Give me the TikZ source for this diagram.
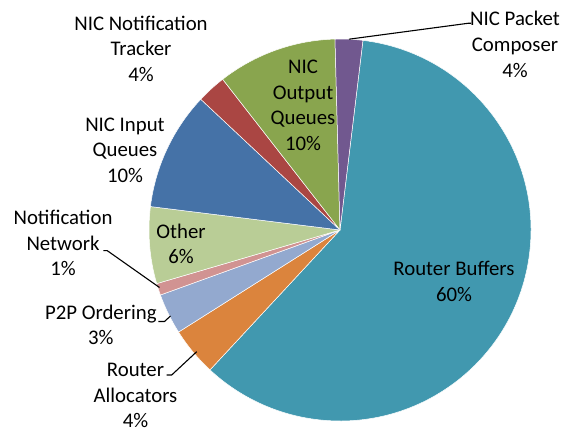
\documentclass[tikz,border=0pt]{standalone}
\usepackage{fontspec}
\setmainfont{Carlito}
\usetikzlibrary{calc}

% slice colours
\definecolor{cinput}{HTML}{4572A7}
\definecolor{ctracker}{HTML}{AA4643}
\definecolor{coutput}{HTML}{89A54E}
\definecolor{ccomposer}{HTML}{71588F}
\definecolor{cbuffers}{HTML}{4198AF}
\definecolor{callocators}{HTML}{DB843D}
\definecolor{cptp}{HTML}{93A9CF}
\definecolor{cnotif}{HTML}{D19392}
\definecolor{cother}{HTML}{B9CD96}

\begin{document}
\begin{tikzpicture}[x=1pt,y=1pt,
  % labels are placed by the baseline of their last line
  lbl/.style={anchor=base, align=center, inner sep=0pt,
              font=\fontsize{20.8}{25.8}\selectfont},
  leader/.style={draw=black, line width=1.1pt, line join=round},
  slice/.style={draw=white, line width=0.5pt, line join=round}]
\useasboundingbox (0,0) rectangle (566,433);

\coordinate (c) at (340,203);
\def\R{191}

% pie slices, clockwise (start angle / end angle / colour)
\foreach \a/\b/\col in {83.1/-132.9/cbuffers,
                        -132.9/-147.7/callocators,
                        -147.7/-160.1/cptp,
                        -160.1/-163.7/cnotif,
                        -163.7/-187.05/cother,
                        -187.05/-223.2/cinput,
                        -223.2/-232.1/ctracker,
                        -232.1/-268.5/coutput,
                        -268.5/-276.9/ccomposer} {
  \filldraw[slice, fill=\col] (c) -- ($(c)+(\a:\R)$)
    arc[start angle=\a, end angle=\b, radius=\R] -- cycle;
}

% labels inside the slices
\node[lbl] (buffers) at (454,131.3) {Router Buffers\\60\%};
\node[lbl] (output) at (303,282.3) {NIC\\Output\\Queues\\10\%};
\node[lbl] (other) at (181,169) {Other\\6\%};

% labels outside the pie
\node[lbl] (tracker) at (141,351.3) {NIC Notification\\Tracker\\4\%};
\node[lbl] (composer) at (515,355.4) {NIC Packet\\Composer\\4\%};
\node[lbl] (input) at (125,250.3) {NIC Input\\Queues\\10\%};
\node[lbl] (notif) at (63,157) {Notification\\Network\\1\%};
\node[lbl] (ptp) at (100.8,88) {P2P Ordering\\3\%};
\node[lbl] (alloc) at (135.5,5) {Router\\Allocators\\4\%};

% leader line anchor points
\coordinate (composerPie) at (349,393.8);
\coordinate (composerBend) at (468,409.7);
\coordinate (composerEnd) at (471,409.7);
\coordinate (notifEnd) at (103.3,182.3);
\coordinate (notifBend) at (107.3,182.3);
\coordinate (notifPie) at (159.5,145.5);
\coordinate (ptpEnd) at (158.3,111.5);
\coordinate (ptpBend) at (164.5,111.5);
\coordinate (ptpPie) at (170.5,117);
\coordinate (allocEnd) at (166.7,58);
\coordinate (allocBend) at (171.7,58);
\coordinate (allocPie) at (196.7,81.3);

\draw[leader] (composerPie) -- (composerBend) -- (composerEnd);
\draw[leader] (notifEnd) -- (notifBend) -- (notifPie);
\draw[leader] (ptpEnd) -- (ptpBend) -- (ptpPie);
\draw[leader] (allocEnd) -- (allocBend) -- (allocPie);
\end{tikzpicture}
\end{document}
